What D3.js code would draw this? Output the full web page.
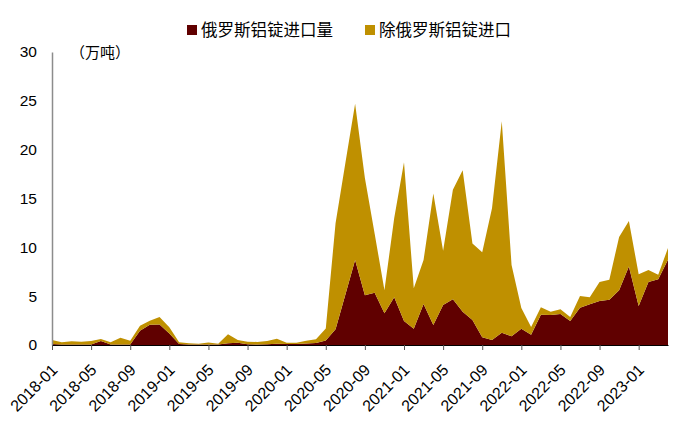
<!DOCTYPE html>
<html>
<head>
<meta charset="utf-8">
<script src="https://cdn.jsdelivr.net/npm/d3@7"></script>
<style>
  html, body { margin: 0; padding: 0; background: #fff; }
  svg { display: block; }
  .tick text { font-family: "Liberation Sans", "Noto Sans", sans-serif; }
</style>
</head>
<body>
<div id="chart"></div>
<script>
// 月份（2018-01 ~ 2023-04）
const months = [
  "2018-01","2018-02","2018-03","2018-04","2018-05","2018-06","2018-07","2018-08","2018-09","2018-10","2018-11","2018-12",
  "2019-01","2019-02","2019-03","2019-04","2019-05","2019-06","2019-07","2019-08","2019-09","2019-10","2019-11","2019-12",
  "2020-01","2020-02","2020-03","2020-04","2020-05","2020-06","2020-07","2020-08","2020-09","2020-10","2020-11","2020-12",
  "2021-01","2021-02","2021-03","2021-04","2021-05","2021-06","2021-07","2021-08","2021-09","2021-10","2021-11","2021-12",
  "2022-01","2022-02","2022-03","2022-04","2022-05","2022-06","2022-07","2022-08","2022-09","2022-10","2022-11","2022-12",
  "2023-01","2023-02","2023-03","2023-04"
];

// 俄罗斯铝锭进口量（万吨）
const russia = [
  0.10, 0.05, 0.05, 0.05, 0.05, 0.41, 0.05, 0.05, 0.05, 1.47, 2.08, 2.10,
  1.19, 0.10, 0.05, 0.05, 0.05, 0.05, 0.17, 0.24, 0.07, 0.05, 0.07, 0.14,
  0.10, 0.10, 0.15, 0.20, 0.45, 1.60, 5.15, 8.70, 5.10, 5.36, 3.24, 4.90,
  2.46, 1.67, 4.20, 2.05, 4.10, 4.68, 3.40, 2.56, 0.80, 0.50, 1.25, 0.90,
  1.67, 1.06, 3.10, 3.07, 3.17, 2.46, 3.82, 4.16, 4.50, 4.64, 5.60, 8.05,
  4.00, 6.45, 6.72, 8.74
];

// 除俄罗斯铝锭进口（万吨）
const others = [
  0.41, 0.22, 0.33, 0.29, 0.36, 0.20, 0.22, 0.70, 0.39, 0.51, 0.41, 0.77,
  0.62, 0.17, 0.12, 0.09, 0.20, 0.09, 0.92, 0.27, 0.27, 0.26, 0.34, 0.51,
  0.14, 0.14, 0.29, 0.40, 1.25, 10.86, 13.45, 16.00, 12.00, 6.04, 2.36, 8.10,
  16.24, 4.13, 4.50, 13.45, 5.56, 11.22, 14.50, 7.84, 8.70, 13.50, 21.65, 7.30,
  2.13, 0.78, 0.76, 0.34, 0.48, 0.41, 1.20, 0.72, 1.95, 2.05, 5.46, 4.65,
  3.24, 1.23, 0.48, 1.19
];

const seriesNames = ["俄罗斯铝锭进口量", "除俄罗斯铝锭进口"];
const yTicks = [0, 5, 10, 15, 20, 25, 30];
const COLORS = { russia: "#600000", others: "#BF9000", axis: "#8c8c8c", ink: "#000" };

const width = 679, height = 425;
const margin = { top: 52, right: 11, bottom: 80, left: 52 };

const svg = d3.select("#chart").append("svg")
  .attr("width", width).attr("height", height);

const x = d3.scaleLinear()
  .domain([0, months.length - 1])
  .range([margin.left, width - margin.right]);
const y = d3.scaleLinear()
  .domain([0, 30])
  .range([height - margin.bottom, margin.top]);

const rows = months.map((m, i) => ({ i, russia: russia[i], others: others[i] }));
const stacked = d3.stack().keys(["russia", "others"])(rows);
const fills = [COLORS.russia, COLORS.others];

const area = d3.area()
  .x(d => x(d.data.i))
  .y0(d => y(d[0]))
  .y1(d => y(d[1]));

svg.append("g").selectAll("path").data(stacked).join("path")
  .attr("fill", (d, k) => fills[k])
  .attr("d", area);

// Y 轴（只有线和标签）
const yAxis = svg.append("g")
  .attr("transform", `translate(${margin.left},0)`)
  .call(d3.axisLeft(y).tickValues(yTicks).tickSize(0).tickPadding(15));
yAxis.select(".domain").attr("stroke", COLORS.axis).attr("stroke-width", 1.5);
yAxis.selectAll("text").attr("font-size", 15.5).attr("fill", COLORS.ink);

// X 轴，每 4 个月一个刻度
const xTickIdx = d3.range(0, months.length, 4);
const xAxis = svg.append("g")
  .attr("transform", `translate(0,${y(0)})`)
  .call(d3.axisBottom(x).tickValues(xTickIdx).tickFormat(i => months[i]).tickSize(5).tickSizeOuter(0));
xAxis.select(".domain").attr("stroke", "#000").attr("stroke-width", 1);
xAxis.selectAll(".tick line").attr("stroke", "#555");
xAxis.selectAll("text")
  .attr("font-size", 16)
  .attr("fill", COLORS.ink)
  .attr("text-anchor", "end")
  .attr("x", 0).attr("y", 0)
  .attr("dy", "0.35em")
  .attr("transform", "translate(2,22) rotate(-45)");

// 单位
svg.append("text")
  .attr("x", 70).attr("y", 58)
  .attr("font-family", "Noto Sans CJK SC")
  .attr("font-size", 15)
  .text("（万吨）");

// 图例
const legend = svg.append("g")
  .attr("font-family", "Noto Sans CJK SC")
  .attr("font-size", 16.5);
const legendX = [187, 365];
seriesNames.forEach((name, k) => {
  const g = legend.append("g").attr("transform", `translate(${legendX[k]},25)`);
  g.append("rect").attr("width", 10).attr("height", 10).attr("fill", fills[k]);
  g.append("text").attr("x", 14).attr("y", 11).text(name);
});
</script>
</body>
</html>
